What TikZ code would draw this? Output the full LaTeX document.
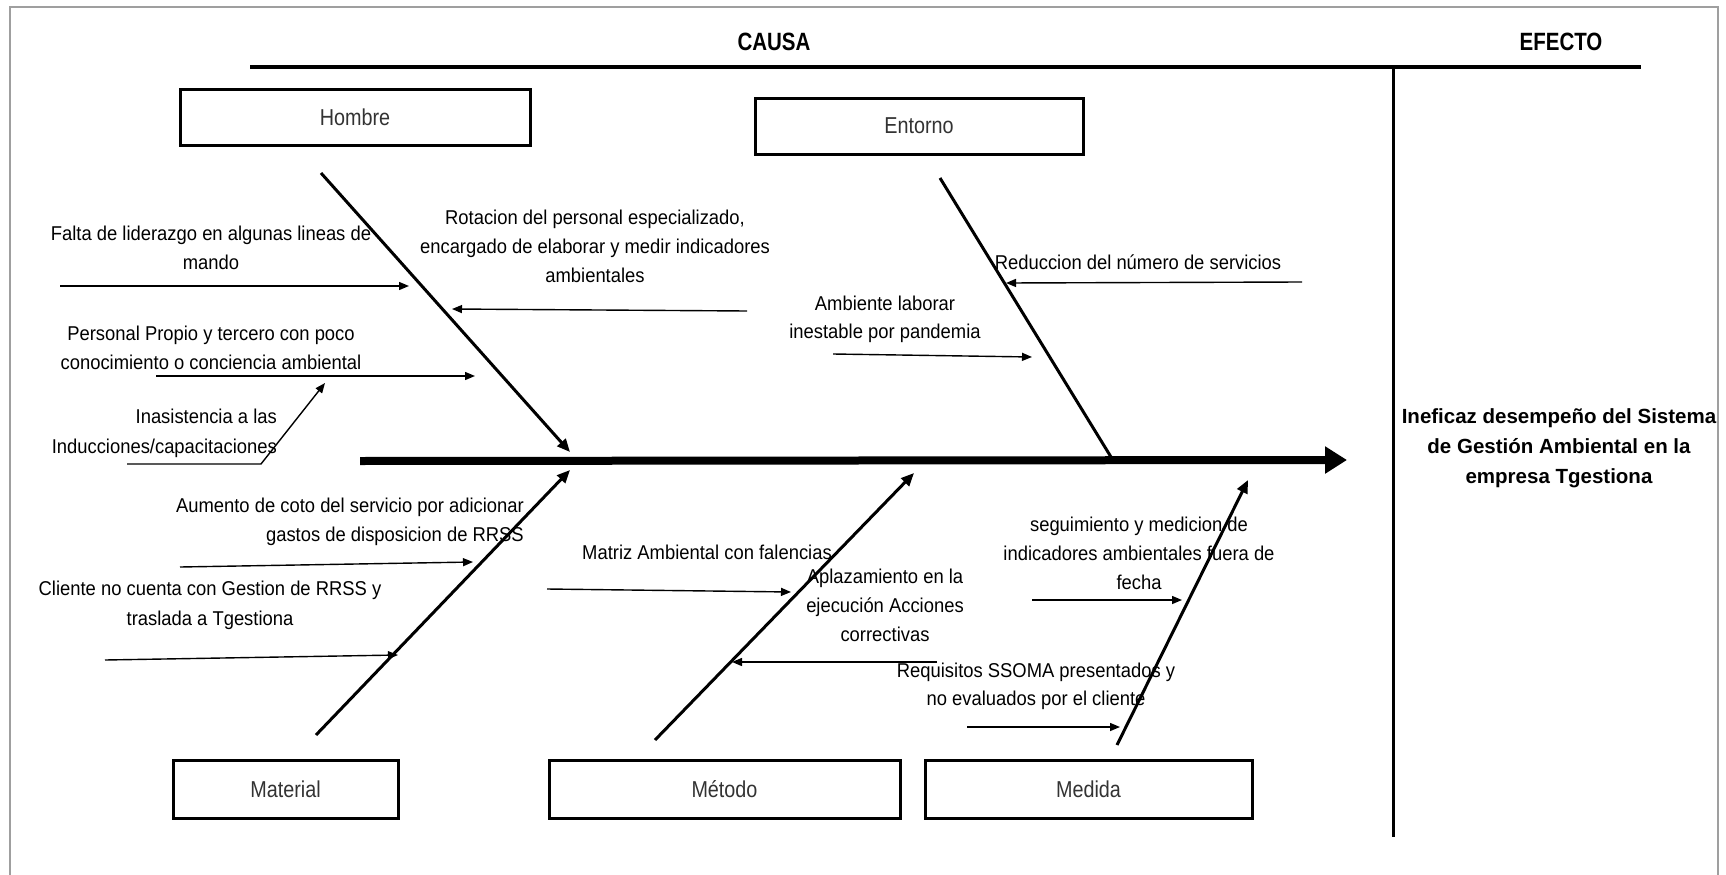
\documentclass[tikz,border=0pt]{standalone}
\usepackage{fontspec}
\setmainfont{Liberation Sans}
\newfontfamily\smallfont[FakeStretch=0.92]{Liberation Sans}
\newfontfamily\boxfont[FakeStretch=0.86]{Liberation Sans}
\newfontfamily\titlefont[FakeStretch=0.82]{Liberation Sans}
\usetikzlibrary{arrows.meta}
\begin{document}
\begin{tikzpicture}[x=1pt,y=-1pt,
  catbox/.style={draw=black, line width=3pt, minimum height=56pt, inner sep=0pt,
    font=\boxfont\fontsize{23}{28}\selectfont, text=black!80},
  cause/.style={inner sep=0pt, font=\smallfont\fontsize{20}{29}\selectfont, align=center},
  rcause/.style={cause, align=right, anchor=east},
  title/.style={inner sep=0pt, font=\titlefont\bfseries\fontsize{25}{30}\selectfont},
  bone/.style={line width=3pt, -{Triangle[length=13pt,width=11pt]}},
  plainbone/.style={line width=3pt},
  small/.style={line width=1.4pt, -{Triangle[length=10pt,width=8pt]}},
  ]
\useasboundingbox (0,0) rectangle (1726,875);
\fill[white] (0,0) rectangle (1726,875);
% frame
\draw[gray!75, line width=1.5pt] (10,875) -- (10,7) -- (1718,7) -- (1718,875);

% headings and separators
\node[title] (causa) at (774,42) {CAUSA};
\node[title] (efecto) at (1561,42) {EFECTO};
\coordinate (tl0) at (250,67);
\coordinate (tl1) at (1641,67);
\draw[line width=3.5pt] (tl0) -- (tl1);
\coordinate (v0) at (1393,67);
\coordinate (v1) at (1393,837);
\draw[line width=3pt] (v0) -- (v1);

% spine
\coordinate (sp0) at (360,461);
\coordinate (sp1) at (1347,460);
\draw[line width=8pt, -{Triangle[length=22pt,width=26pt]}] (sp0) -- (sp1);

% effect
\node[inner sep=0pt, align=center, font=\bfseries\fontsize{20.5}{30}\selectfont] (effect) at (1559,448)
  {Ineficaz desempeño del Sistema\\de Gestión Ambiental en la\\empresa Tgestiona};

% category boxes
\node[catbox, minimum width=350pt] (hombre) at (355,117) {Hombre};
\node[catbox, minimum width=328pt] (entorno) at (919,126) {Entorno};
\node[catbox, minimum width=225pt, minimum height=58pt] (material) at (285.5,789) {Material};
\node[catbox, minimum width=351pt, minimum height=58pt] (metodo) at (724.5,789) {Método};
\node[catbox, minimum width=327pt, minimum height=58pt] (medida) at (1088.5,789) {Medida};

% bones
\coordinate (hb0) at (321,173);  \coordinate (hb1) at (570,452);
\coordinate (eb0) at (940,178);  \coordinate (eb1) at (1111,457);
\coordinate (mb0) at (316,735);  \coordinate (mb1) at (570,470);
\coordinate (tb0) at (655,740);  \coordinate (tb1) at (914,473);
\coordinate (db0) at (1117,745); \coordinate (db1) at (1248,480);
\draw[bone] (hb0) -- (hb1);
\draw[plainbone] (eb0) -- (eb1);
\draw[bone] (mb0) -- (mb1);
\draw[bone] (tb0) -- (tb1);
\draw[bone] (db0) -- (db1);

% cause texts
\node[cause] (t1) at (211,247.5) {Falta de liderazgo en algunas lineas de\\mando};
\node[cause] (t2) at (595,246) {Rotacion del personal especializado,\\encargado de elaborar y medir indicadores\\ambientales};
\node[cause] (t3) at (1138,262) {Reduccion del número de servicios};
\node[cause, font=\smallfont\fontsize{20}{28}\selectfont] (t4) at (885,319) {Ambiente laborar\\inestable por pandemia};
\node[cause] (t5) at (211,347.5) {Personal Propio y tercero con poco\\conocimiento o conciencia ambiental};
\node[rcause, font=\smallfont\fontsize{20}{30}\selectfont] (t6) at (277,433) {Inasistencia a las\\Inducciones/capacitaciones};
\node[rcause] (t7) at (524,521.5) {Aumento de coto del servicio por adicionar\\gastos de disposicion de RRSS};
\node[cause, font=\smallfont\fontsize{20}{30}\selectfont] (t8) at (210,605) {Cliente no cuenta con Gestion de RRSS y\\traslada a Tgestiona};
\node[cause] (t9) at (707,552) {Matriz Ambiental con falencias};
\node[cause] (t10) at (885,605) {Aplazamiento en la\\ejecución Acciones\\correctivas};
\node[cause] (t11) at (1139,553) {seguimiento y medicion de\\indicadores ambientales fuera de\\fecha};
\node[cause, font=\smallfont\fontsize{20}{28}\selectfont] (t12) at (1036,686) {Requisitos SSOMA presentados y\\no evaluados por el cliente};

% cause arrows
\coordinate (a1s) at (60,286);   \coordinate (a1e) at (409,286);
\coordinate (a2s) at (747,311);  \coordinate (a2e) at (452,309);
\coordinate (a3s) at (1302,282); \coordinate (a3e) at (1006,283);
\coordinate (a4s) at (833,354);  \coordinate (a4e) at (1032,357);
\coordinate (a5s) at (156,376);  \coordinate (a5e) at (475,376);
\coordinate (a6s) at (127,464);  \coordinate (a6m) at (261,464); \coordinate (a6e) at (325,383);
\coordinate (a7s) at (180,567);  \coordinate (a7e) at (473,562);
\coordinate (a8s) at (105,660);  \coordinate (a8e) at (398,655);
\coordinate (a9s) at (547,589);  \coordinate (a9e) at (791,592);
\coordinate (a10s) at (937,662); \coordinate (a10e) at (732,662);
\coordinate (a11s) at (1032,600);\coordinate (a11e) at (1182,600);
\coordinate (a12s) at (967,727); \coordinate (a12e) at (1120,727);
\draw[small] (a1s) -- (a1e);
\draw[small] (a2s) -- (a2e);
\draw[small] (a3s) -- (a3e);
\draw[small] (a4s) -- (a4e);
\draw[small] (a5s) -- (a5e);
\draw[small] (a6s) -- (a6m) -- (a6e);
\draw[small] (a7s) -- (a7e);
\draw[small] (a8s) -- (a8e);
\draw[small] (a9s) -- (a9e);
\draw[small] (a10s) -- (a10e);
\draw[small] (a11s) -- (a11e);
\draw[small] (a12s) -- (a12e);
\end{tikzpicture}
\end{document}
